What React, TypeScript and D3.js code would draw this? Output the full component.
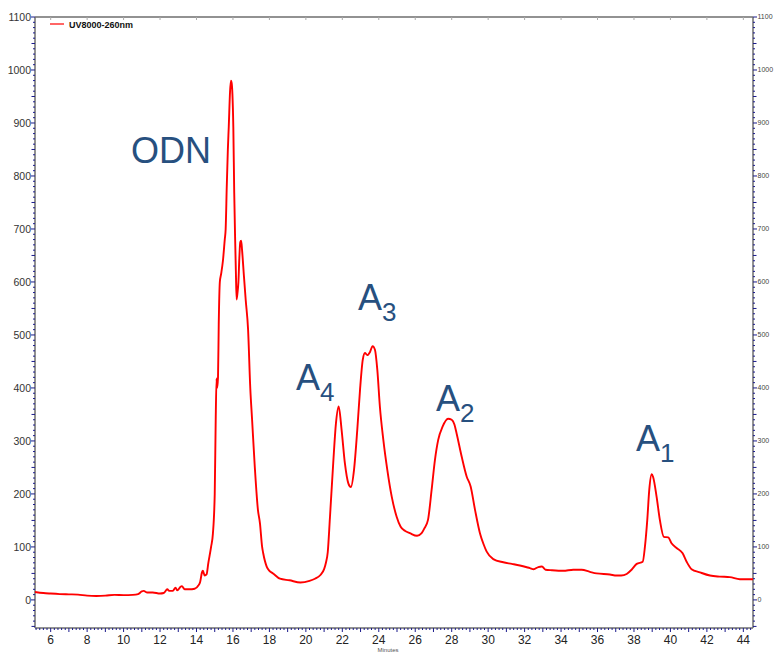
import React from "react";
import * as d3 from "d3";

const retentionTime = [
  5.14, 5.6, 6.0, 6.5, 7.0, 7.5, 8.0, 8.5, 9.0, 9.5, 10.0, 10.5, 10.8, 11.0, 11.1, 11.3, 11.6, 12.0, 12.2, 12.4,
  12.5, 12.7, 12.85, 12.95, 13.1, 13.2, 13.35, 13.6, 13.9, 14.1, 14.2, 14.3, 14.35, 14.45, 14.55, 14.65, 14.8, 14.9,
  15.0, 15.05, 15.1, 15.13, 15.18, 15.22, 15.28, 15.35, 15.45, 15.55, 15.6, 15.66, 15.72, 15.77, 15.84, 15.89,
  15.93, 15.97, 16.02, 16.07, 16.12, 16.16, 16.2, 16.25, 16.3, 16.35, 16.4, 16.45, 16.5, 16.6, 16.7, 16.83, 16.95,
  17.05, 17.2, 17.37, 17.48, 17.6, 17.66, 17.85, 18.0, 18.2, 18.58, 19.1, 19.7, 20.2, 20.5, 20.8, 21.0, 21.1, 21.2,
  21.32, 21.5, 21.65, 21.8, 21.96, 22.14, 22.33, 22.47, 22.64, 22.82, 22.97, 23.12, 23.24, 23.37, 23.52, 23.66,
  23.79, 23.92, 24.06, 24.25, 24.47, 24.71, 24.98, 25.2, 25.45, 25.7, 26.1, 26.35, 26.5, 26.7, 26.9, 27.08, 27.26,
  27.5, 27.8, 28.0, 28.15, 28.27, 28.55, 28.82, 29.04, 29.28, 29.55, 29.75, 29.92, 30.28, 30.83, 31.3, 31.74, 32.29,
  32.5, 32.75, 32.95, 33.15, 33.5, 34.12, 34.67, 35.13, 35.58, 35.95, 36.68, 37.05, 37.3, 37.6, 37.87, 38.15, 38.48,
  38.6, 38.73, 38.84, 38.97, 39.05, 39.24, 39.42, 39.64, 39.88, 40.06, 40.34, 40.67, 40.89, 41.16, 41.62, 42.17,
  42.7, 43.26, 43.81, 44.53,
];

const signal = [
  15, 13, 12, 11, 10.5, 10, 8, 7.5, 8, 9.5, 9, 9.5, 11, 16, 17, 14, 14, 12, 13, 20,
  17, 17, 23, 18, 24, 26, 20, 20, 21, 27, 34, 52, 55, 46, 48, 70, 100, 125,
  200, 330, 418, 400, 420, 520, 600, 615, 640, 680, 700, 780, 850, 893, 959, 980,
  975, 955, 893, 768, 680, 620, 567, 580, 600, 645, 675, 678, 660, 612, 566, 510, 400,
  340, 250, 170, 145, 100, 88, 63, 55, 50, 40, 37, 33, 36, 40, 47, 58, 70, 90,
  155, 258, 333, 365, 321, 258, 220, 213, 245, 321, 396, 453, 466, 462, 468, 479,
  472, 434, 365, 302, 245, 195, 157, 138, 130, 126, 121, 126, 135, 151, 208, 264, 302,
  327, 342, 340, 331, 314, 270, 233, 214, 170, 126, 105, 91, 77, 71, 68, 65, 60,
  58, 62, 63, 57, 56, 55, 57, 57, 53, 50, 48, 46, 46, 49, 57, 68, 72,
  100, 151, 208, 237, 232, 195, 151, 119, 118, 107, 98, 88, 72, 58, 52, 46,
  44, 43, 39, 39,
];

const xTickValues = [6, 8, 10, 12, 14, 16, 18, 20, 22, 24, 26, 28, 30, 32, 34, 36, 38, 40, 42, 44];
const yTickValues = [0, 100, 200, 300, 400, 500, 600, 700, 800, 900, 1000, 1100];

const peakNames = ["ODN", "A", "A", "A", "A"];
const peakSubscripts = ["", "4", "3", "2", "1"];
const peakLabelTime = [10.4, 19.46, 22.86, 27.14, 38.11];
const peakLabelSignal = [824, 396, 548, 356, 281];

const seriesName = "UV8000-260nm";
const xAxisTitle = "Minutes";

const W = 776;
const H = 653;
const L = 35, R = 753, T = 17, B = 628;

export default function App() {
  const x = d3.scaleLinear().domain([5.14, 44.53]).range([L, R]);
  const y = d3.scaleLinear().domain([-53, 1100]).range([B, T]);
  const pts = retentionTime.map((t, i) => [t, signal[i]] as [number, number]);
  const line = d3
    .line<[number, number]>()
    .x((d) => x(d[0]))
    .y((d) => y(d[1]))
    .curve(d3.curveMonotoneX);

  const yMinor = d3.range(-50, 1101, 10);
  const xMinor = d3.range(5.2, 44.53, 0.2);
  const font = "'Liberation Sans', Arial, sans-serif";
  const tickColor = "#1a1a8c";
  const axisColor = "#6e6e6e";
  const labelColor = "#27507f";

  return (
    <svg
      width={W}
      height={H}
      style={{ position: "absolute", left: 0, top: 0, background: "#fff" }}
      fontFamily={font}
    >
      <rect x={0} y={0} width={W} height={H} fill="#fff" />
      {/* frame */}
      <line x1={L} x2={R} y1={T} y2={T} stroke={axisColor} strokeWidth={1.5} />
      <line x1={L} x2={L} y1={T} y2={B} stroke={axisColor} strokeWidth={1.5} />
      <line x1={R} x2={R} y1={T} y2={B} stroke={axisColor} strokeWidth={1.5} />
      <line x1={L} x2={R} y1={B} y2={B} stroke={axisColor} strokeWidth={1.5} />

      {/* left & right y minor ticks */}
      {yMinor.map((v) => {
        const len = v % 100 === 0 ? 4 : v % 50 === 0 ? 3.5 : 2;
        return (
          <g key={"ym" + v}>
            <line x1={L - len} x2={L} y1={y(v)} y2={y(v)} stroke={tickColor} strokeWidth={1} />
            <line x1={R} x2={R + len} y1={y(v)} y2={y(v)} stroke={tickColor} strokeWidth={1} />
          </g>
        );
      })}
      {yTickValues.map((v) => (
        <g key={"yl" + v}>
          <text x={31} y={y(v)} dy="0.35em" textAnchor="end" fontSize={10.5} fill="#333">
            {v}
          </text>
          <text x={757.5} y={y(v)} dy="0.35em" textAnchor="start" fontSize={7} fill="#444">
            {v}
          </text>
        </g>
      ))}

      {/* x ticks */}
      {xMinor.map((t, i) => {
        const isInt = Math.abs(t - Math.round(t)) < 0.01;
        const len = isInt ? 4 : 2;
        return <line key={"xm" + i} x1={x(t)} x2={x(t)} y1={B} y2={B + len} stroke={tickColor} strokeWidth={1} />;
      })}
      {xTickValues.map((t) => (
        <g key={"xl" + t}>
          <line x1={x(t)} x2={x(t)} y1={T} y2={T + 3} stroke="#aaa" strokeWidth={1} />
          <text x={x(t)} y={643.5} textAnchor="middle" fontSize={12} fill="#222">
            {t}
          </text>
        </g>
      ))}
      <text x={388} y={651.5} textAnchor="middle" fontSize={6} fill="#555">
        {xAxisTitle}
      </text>

      {/* data line */}
      <path d={line(pts) || ""} fill="none" stroke="#ff0000" strokeWidth={1.9} strokeLinejoin="round" />

      {/* legend */}
      <line x1={50} x2={64} y1={24} y2={24} stroke="#ff0000" strokeWidth={1.2} />
      <text x={69} y={28} fontSize={9} fontWeight="bold" fill="#111">
        {seriesName}
      </text>

      {/* peak labels */}
      {peakNames.map((n, i) => (
        <text key={"pk" + i} x={x(peakLabelTime[i])} y={y(peakLabelSignal[i])} fontSize={36} fill={labelColor}>
          {n}
          {peakSubscripts[i] && (
            <tspan fontSize={26} dy={11}>
              {peakSubscripts[i]}
            </tspan>
          )}
        </text>
      ))}
    </svg>
  );
}
